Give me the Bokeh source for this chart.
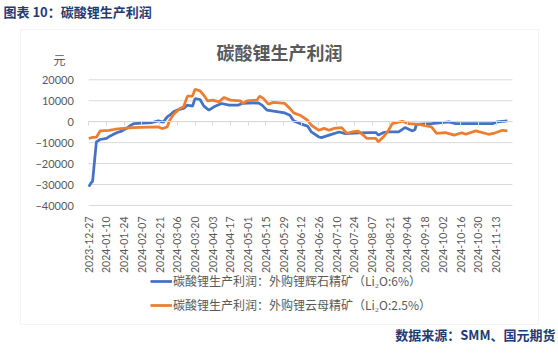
import math
import pandas as pd
from bokeh.plotting import figure
from bokeh.models import (Range1d, DatetimeAxis, LinearAxis, FixedTicker, DatetimeTickFormatter,
                          CustomJSTickFormatter, Legend, LegendItem, Label, BoxAnnotation,
                          ColumnDataSource)
from bokeh.embed import file_html
from bokeh.resources import INLINE

# ---------------- data ----------------
spodumene_dates = [
    "2023-12-27", "2023-12-29", "2023-12-30", "2024-01-02", "2024-01-05", "2024-01-10",
    "2024-01-13", "2024-01-18", "2024-01-22", "2024-01-26", "2024-01-29", "2024-02-01",
    "2024-02-15", "2024-02-20", "2024-02-24", "2024-02-27", "2024-02-29", "2024-03-03",
    "2024-03-07", "2024-03-11", "2024-03-14", "2024-03-18", "2024-03-20", "2024-03-24",
    "2024-03-27", "2024-03-31", "2024-04-04", "2024-04-10", "2024-04-16", "2024-04-23",
    "2024-04-26", "2024-05-09", "2024-05-12", "2024-05-16", "2024-05-21", "2024-05-30",
    "2024-06-03", "2024-06-06", "2024-06-11", "2024-06-17", "2024-06-20", "2024-06-26",
    "2024-06-28", "2024-07-04", "2024-07-12", "2024-07-17", "2024-07-27", "2024-08-06",
    "2024-08-10", "2024-08-12", "2024-08-16", "2024-08-20", "2024-08-28", "2024-09-02",
    "2024-09-08", "2024-09-10", "2024-09-11", "2024-09-23", "2024-10-07", "2024-10-12",
    "2024-11-10", "2024-11-14", "2024-11-22",
]
spodumene_profit = [
    -31000, -29000, -28500, -9600, -8500, -8000,
    -6800, -5300, -4500, -3200, -1700, -900,
    -400, 400, -200, 2300, 3100, 4700,
    5800, 6300, 7900, 7400, 11000, 10600,
    7400, 5500, 7100, 8700, 7900, 7900,
    8700, 9000, 7900, 5500, 5000, 4200,
    3100, 400, -900, -2100, -4900, -7300,
    -7600, -6400, -4900, -5700, -5300, -5200,
    -5200, -6400, -5200, -4900, -4900, -2800,
    -4400, -3700, -1300, -900, -100, -900,
    -900, -100, 400,
]

lepidolite_dates = [
    "2023-12-27", "2023-12-30", "2024-01-02", "2024-01-05", "2024-01-12", "2024-01-17",
    "2024-01-30", "2024-02-20", "2024-02-23", "2024-02-27", "2024-02-29", "2024-03-03",
    "2024-03-08", "2024-03-11", "2024-03-14", "2024-03-18", "2024-03-20", "2024-03-24",
    "2024-03-27", "2024-03-30", "2024-04-03", "2024-04-08", "2024-04-12", "2024-04-17",
    "2024-04-25", "2024-04-27", "2024-04-30", "2024-05-08", "2024-05-10", "2024-05-13",
    "2024-05-17", "2024-05-21", "2024-05-30", "2024-06-03", "2024-06-06", "2024-06-11",
    "2024-06-17", "2024-06-20", "2024-06-26", "2024-06-30", "2024-07-04", "2024-07-08",
    "2024-07-14", "2024-07-18", "2024-07-22", "2024-07-27", "2024-07-31", "2024-08-03",
    "2024-08-10", "2024-08-12", "2024-08-16", "2024-08-20", "2024-08-23", "2024-08-31",
    "2024-09-05", "2024-09-13", "2024-09-23", "2024-09-27", "2024-10-04", "2024-10-11",
    "2024-10-17", "2024-10-20", "2024-10-28", "2024-11-07", "2024-11-11", "2024-11-18",
    "2024-11-22",
]
lepidolite_profit = [
    -8000, -7500, -7400, -4400, -4100, -3600,
    -2800, -2500, -3300, -2500, 700, 3400,
    6300, 7100, 12200, 12200, 15500, 14700,
    12600, 9900, 10300, 9500, 11600, 10300,
    9900, 8700, 9900, 10300, 12200, 11100,
    8400, 9200, 8700, 6300, 4200, 3100,
    700, -1700, -4100, -3200, -4100, -3200,
    -2800, -5600, -4900, -4500, -6400, -8000,
    -8000, -9600, -7200, -4100, -900, 200,
    -900, -1300, -2500, -5600, -5200, -6400,
    -5300, -6000, -4400, -6000, -5600, -4100,
    -4400,
]

x_tick_labels = [
    "2023-12-27", "2024-01-10", "2024-01-24", "2024-02-07", "2024-02-21", "2024-03-06",
    "2024-03-20", "2024-04-03", "2024-04-17", "2024-05-01", "2024-05-15", "2024-05-29",
    "2024-06-12", "2024-06-26", "2024-07-10", "2024-07-24", "2024-08-07", "2024-08-21",
    "2024-09-04", "2024-09-18", "2024-10-02", "2024-10-16", "2024-10-30", "2024-11-13",
]
y_ticks = [-40000, -30000, -20000, -10000, 0, 10000, 20000]
axis_start, axis_end = "2023-12-27", "2024-11-26"

series_names = ["碳酸锂生产利润：外购锂辉石精矿（Li₂O:6%）",
                "碳酸锂生产利润：外购锂云母精矿（Li₂O:2.5%）"]
chart_title = "碳酸锂生产利润"
header_text = "图表 10：碳酸锂生产利润"
source_text = "数据来源：SMM、国元期货"
unit_text = "元"

# ---------------- styling / layout ----------------
W, H = 558, 353
GRAY = "#595959"
GRID = "#d9d9d9"
NAVY = "#1f3b73"

# the frame covers the whole canvas; the plot area sits inside it
x0 = pd.Timestamp(axis_start)
x1 = pd.Timestamp(axis_end)
day = pd.Timedelta(days=1)
x_range = Range1d(x0 - 69.8 * day, x1 + 36.4 * day)
y_range = Range1d(-110640, 57850)

p = figure(width=W, height=H, output_backend="svg", toolbar_location=None,
           x_axis_type="datetime", x_axis_location=None, y_axis_location=None,
           x_range=x_range, y_range=y_range,
           min_border_left=0, min_border_right=0, min_border_top=0, min_border_bottom=0)
p.outline_line_color = None
p.background_fill_color = "white"
p.border_fill_color = "white"
p.xgrid.visible = False
p.ygrid.visible = False

x0_ms = x0.value / 1e6
x1_ms = x1.value / 1e6
tick_ms = [pd.Timestamp(d).value / 1e6 for d in x_tick_labels]

# chart box
p.add_layout(BoxAnnotation(left=20, right=538, top=H - 29, bottom=H - 324,
                           left_units="screen", right_units="screen",
                           top_units="screen", bottom_units="screen",
                           fill_alpha=0, line_color=GRID, line_width=1))

# horizontal gridlines across the plot area only
grid_src = ColumnDataSource(dict(x0=[x0] * len(y_ticks), x1=[x1] * len(y_ticks), y=y_ticks))
p.segment(x0="x0", y0="y", x1="x1", y1="y", source=grid_src, line_color=GRID, line_width=1)

# x labels at the bottom of the plot area
xa = DatetimeAxis(fixed_location=y_ticks[0], ticker=FixedTicker(ticks=tick_ms),
                  formatter=DatetimeTickFormatter(days="%Y-%m-%d", months="%Y-%m-%d",
                                                  years="%Y-%m-%d"))
xa.major_label_orientation = math.pi / 2
xa.axis_line_color = None
xa.major_tick_line_color = None
xa.minor_tick_line_color = None
xa.major_label_standoff = 5
xa.major_label_text_font = "Lato"
xa.major_label_text_font_size = "10.5px"
xa.major_label_text_color = GRAY
p.add_layout(xa, "below")

# category axis line with tick marks at y = 0
za = DatetimeAxis(fixed_location=0, ticker=FixedTicker(ticks=tick_ms),
                  formatter=CustomJSTickFormatter(code="return ''"),
                  bounds=(x0_ms, x1_ms))
za.axis_line_color = GRID
za.major_tick_line_color = GRID
za.major_tick_out = 4
za.major_tick_in = 0
za.minor_tick_line_color = None
p.add_layout(za, "below")

ya = LinearAxis(fixed_location=x0_ms, ticker=FixedTicker(ticks=y_ticks))
ya.axis_line_color = None
ya.major_tick_line_color = None
ya.minor_tick_line_color = None
ya.major_label_standoff = 9
ya.major_label_text_font = "Lato"
ya.major_label_text_font_size = "11px"
ya.major_label_text_color = GRAY
p.add_layout(ya, "left")

s1 = ColumnDataSource(dict(x=pd.to_datetime(spodumene_dates), y=spodumene_profit))
s2 = ColumnDataSource(dict(x=pd.to_datetime(lepidolite_dates), y=lepidolite_profit))
r1 = p.line("x", "y", source=s1, line_color="#4472C4", line_width=2.75)
r2 = p.line("x", "y", source=s2, line_color="#ED7D31", line_width=2.75)

legend = Legend(items=[LegendItem(label=series_names[0], renderers=[r1]),
                       LegendItem(label=series_names[1], renderers=[r2])],
                location=(150, H - 315), orientation="vertical",
                glyph_width=22, glyph_height=20, label_height=20, spacing=4,
                padding=0, margin=0, label_standoff=1,
                border_line_color=None, background_fill_alpha=0,
                label_text_font="Noto Sans CJK SC", label_text_font_size="12px",
                label_text_color=GRAY)
p.add_layout(legend, "center")

p.add_layout(Label(x=279, y=H - 51, x_units="screen", y_units="screen", text=chart_title,
                   text_font="Noto Sans CJK SC", text_font_size="18px", text_font_style="bold",
                   text_color=GRAY, text_align="center", text_baseline="middle"))
p.add_layout(Label(x=59, y=H - 59, x_units="screen", y_units="screen", text=unit_text,
                   text_font="Noto Sans CJK SC", text_font_size="12px",
                   text_color=GRAY, text_align="center", text_baseline="middle"))
p.add_layout(Label(x=3, y=H - 11, x_units="screen", y_units="screen", text=header_text,
                   text_font="Noto Sans CJK SC", text_font_size="13px", text_font_style="bold",
                   text_color=NAVY, text_align="left", text_baseline="middle"))
p.add_layout(Label(x=555, y=H - 334, x_units="screen", y_units="screen", text=source_text,
                   text_font="Noto Sans CJK SC", text_font_size="13px", text_font_style="bold",
                   text_color=NAVY, text_align="right", text_baseline="middle"))

open("out.html", "w").write(file_html(p, INLINE))
